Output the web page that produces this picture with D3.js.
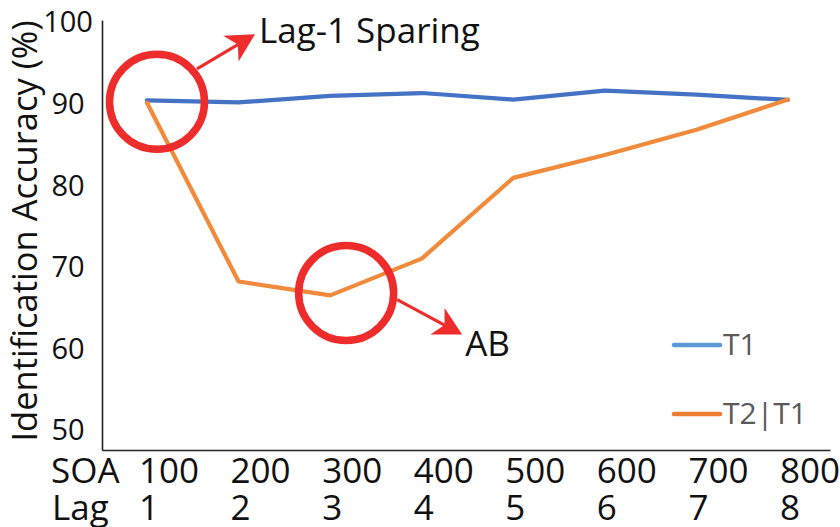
<!DOCTYPE html>
<html>
<head>
<meta charset="utf-8">
<script src="https://cdn.jsdelivr.net/npm/d3@7"></script>
<style>
  html, body { margin: 0; padding: 0; background: #fff; }
  svg { display: block; font-family: "Open Sans", "Noto Sans", sans-serif; }
</style>
</head>
<body>
<svg id="chart" width="840" height="527"></svg>
<script>
// Lag / SOA categories
const lags = [1, 2, 3, 4, 5, 6, 7, 8];
const soas = [100, 200, 300, 400, 500, 600, 700, 800];

// Identification accuracy (%) per lag
const t1Acc   = [90.4, 90.15, 90.95, 91.3, 90.5, 91.6, 91.1, 90.45];
const t2t1Acc = [90.1, 68.2, 66.5, 71.0, 80.9, 83.7, 86.8, 90.5];

const yTicks = [50, 60, 70, 80, 90, 100];

const seriesNames  = ["T1", "T2|T1"];
const lineColors   = ["#4472C4", "#F28A3B"];
const legendColors = ["#5B9BD5", "#ED7D31"];

// Annotated points: lag, value, label
const notes = [
  { lag: 1, value: 90.4, label: "Lag-1 Sparing" },
  { lag: 3, value: 66.6, label: "AB" }
];

const svg = d3.select("#chart");
const red = "#EE2C2C";

const x = d3.scalePoint().domain(lags).range([147, 788]);
const y = d3.scaleLinear().domain([47.55, 100.25]).range([450, 20]);

// Axes: left and bottom lines only
const axisX0 = 102, axisX1 = 830;
svg.append("g")
  .attr("transform", `translate(${axisX0},0)`)
  .call(d3.axisLeft(y).tickValues([]).tickSize(0).tickSizeOuter(0))
  .call(g => g.select(".domain").attr("stroke", "#222").attr("stroke-width", 1.6));

const xLin = d3.scaleLinear().domain([0, 1]).range([axisX0, axisX1]);
svg.append("g")
  .attr("transform", `translate(0,${y(y.domain()[0])})`)
  .call(d3.axisBottom(xLin).tickValues([]).tickSize(0).tickSizeOuter(0))
  .call(g => g.select(".domain").attr("stroke", "#222").attr("stroke-width", 1.6));

// Y tick labels
svg.append("g").selectAll("text")
  .data(yTicks)
  .join("text")
  .attr("x", 68)
  .attr("y", d => y(d))
  .attr("dy", "0.36em")
  .attr("text-anchor", "middle")
  .attr("font-size", 29)
  .attr("fill", "#111")
  .text(d => d);

// Y axis title
svg.append("text")
  .attr("transform", "translate(37,231) rotate(-90)")
  .attr("text-anchor", "middle")
  .attr("font-size", 34.5)
  .attr("fill", "#111")
  .text("Identification Accuracy (%)");

// X labels: SOA row and Lag row
const rowSOA = 483, rowLag = 520;
svg.append("text").attr("x", 51).attr("y", rowSOA)
  .attr("font-size", 35).attr("fill", "#111").text("SOA");
svg.append("text").attr("x", 52).attr("y", rowLag)
  .attr("font-size", 35).attr("fill", "#111").text("Lag");

svg.append("g").selectAll("text")
  .data(lags)
  .join("text")
  .attr("x", d => x(d) - 8)
  .attr("y", rowSOA)
  .attr("font-size", 35)
  .attr("fill", "#111")
  .text((d, i) => soas[i]);

svg.append("g").selectAll("text")
  .data(lags)
  .join("text")
  .attr("x", d => x(d) - 8)
  .attr("y", rowLag)
  .attr("font-size", 35)
  .attr("fill", "#111")
  .text(d => d);

// Lines
const line = d3.line().x((d, i) => x(lags[i])).y(d => y(d));
[t1Acc, t2t1Acc].forEach((vals, k) => {
  svg.append("path")
    .datum(vals)
    .attr("d", line)
    .attr("fill", "none")
    .attr("stroke", lineColors[k])
    .attr("stroke-width", 4.2)
    .attr("stroke-linejoin", "round")
    .attr("stroke-linecap", "round");
});

// Legend
const legendY = [345, 414];
seriesNames.forEach((name, k) => {
  svg.append("line")
    .attr("x1", 674).attr("x2", 720)
    .attr("y1", legendY[k]).attr("y2", legendY[k])
    .attr("stroke", legendColors[k])
    .attr("stroke-width", 4.5)
    .attr("stroke-linecap", "round");
  svg.append("text")
    .attr("x", 723).attr("y", legendY[k] + 10)
    .attr("font-size", 30)
    .attr("fill", "#595959")
    .text(name);
});

// Annotation: ring around a point, stealth arrow, label
function arrow(x0, y0, x1, y1) {
  const dx = x1 - x0, dy = y1 - y0, len = Math.hypot(dx, dy);
  const ux = dx / len, uy = dy / len, nx = -uy, ny = ux;
  const L = 28, W = 15, notch = 20;
  svg.append("line")
    .attr("x1", x0).attr("y1", y0)
    .attr("x2", x1 - ux * notch).attr("y2", y1 - uy * notch)
    .attr("stroke", red).attr("stroke-width", 3);
  const p = d3.path();
  p.moveTo(x1, y1);
  p.lineTo(x1 - ux * L + nx * W, y1 - uy * L + ny * W);
  p.lineTo(x1 - ux * notch, y1 - uy * notch);
  p.lineTo(x1 - ux * L - nx * W, y1 - uy * L - ny * W);
  p.closePath();
  svg.append("path").attr("d", p.toString()).attr("fill", red);
}

const ringSpecs = [
  { dx: 10, dy: 1.5, a0: [40, -33], a1: [98, -67.5], t: [4, 9] },
  { dx: 16, dy: -1.5, a0: [51, 6.5], a1: [116, 41.5], t: [3, 21] }
];
notes.forEach((n, i) => {
  const s = ringSpecs[i];
  const cx = x(n.lag) + s.dx, cy = y(n.value) + s.dy;
  svg.append("circle")
    .attr("cx", cx).attr("cy", cy).attr("r", 47.5)
    .attr("fill", "none").attr("stroke", red).attr("stroke-width", 7.5);
  arrow(cx + s.a0[0], cy + s.a0[1], cx + s.a1[0], cy + s.a1[1]);
  svg.append("text")
    .attr("x", cx + s.a1[0] + s.t[0])
    .attr("y", cy + s.a1[1] + s.t[1])
    .attr("font-size", 35)
    .attr("fill", "#111")
    .text(n.label);
});
</script>
</body>
</html>
